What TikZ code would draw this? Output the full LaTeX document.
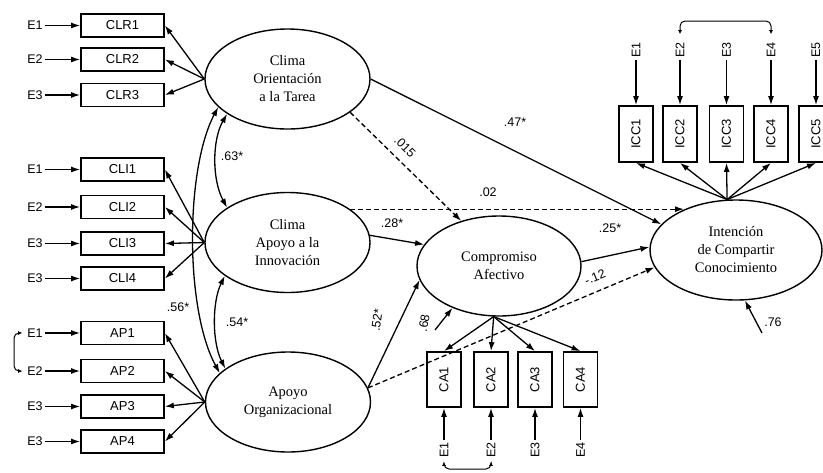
\documentclass[tikz,border=0pt]{standalone}
\usepackage{fontspec}
\usepackage{graphicx}
\setmainfont{Liberation Serif}
\newfontfamily\labelfont{Liberation Sans}
\usetikzlibrary{arrows.meta,shapes.geometric,calc}

\begin{document}
\begin{tikzpicture}[x=1pt,y=-1pt,
  every node/.style={inner sep=0pt},
  arr/.style={-{Latex[length=9pt,width=6pt]}, line width=1.3pt},
  dasharr/.style={arr, dash pattern=on 5pt off 3pt},
  cov/.style={{Latex[length=9pt,width=6pt]}-{Latex[length=9pt,width=6pt]}, line width=1.3pt},
  corr/.style={{Latex[length=4pt,width=4pt]}-{Latex[length=4pt,width=4pt]}, line width=1pt, rounded corners=5pt},
  latent/.style={ellipse, draw, line width=1.4pt, minimum width=165pt, minimum height=100pt,
    align=center, font=\fontsize{14.5}{18}\selectfont},
  ind/.style={draw, line width=1.8pt, minimum width=83pt, minimum height=23pt,
    font=\labelfont\fontsize{13}{15}\selectfont},
  vind/.style={draw, line width=1.8pt, minimum width=34pt, minimum height=56pt,
    font=\labelfont\fontsize{13}{15}\selectfont},
  err/.style={inner sep=2pt, font=\labelfont\fontsize{12.5}{14}\selectfont},
  coef/.style={font=\labelfont\fontsize{12.5}{14}\selectfont},
]
\useasboundingbox (0,0) rectangle (823,472);
\clip (0,0) rectangle (823,472);

% latent constructs
\node[latent] (ot) at (287.5,79) {Clima\\Orientación\\a la Tarea};
\node[latent] (ai) at (287.5,242.5) {Clima\\Apoyo a la\\Innovación};
\node[latent] (ao) at (288,402) {Apoyo\\Organizacional};
\node[latent, minimum width=164pt] (ca) at (499,266) {Compromiso\\Afectivo};
\node[latent, minimum width=172pt] (ic) at (736,250) {Intención\\de Compartir\\Conocimiento};

% indicators of the three climate / support factors, with their errors
\foreach \n/\t/\y/\e in {clr1/CLR1/25.5/E1, clr2/CLR2/59.5/E2, clr3/CLR3/95/E3,
    cli1/CLI1/169.5/E1, cli2/CLI2/207/E2, cli3/CLI3/243.5/E3, cli4/CLI4/278.5/E3,
    ap1/AP1/333/E1, ap2/AP2/371/E2, ap3/AP3/406.5/E3, ap4/AP4/441.5/E3} {
  \node[ind] (\n) at (122.5,\y) {\t};
  \node[err] (e\n) at (35,\y) {\e};
  \draw[arr] (e\n) -- (\n);
}
\foreach \n in {clr1,clr2,clr3} \draw[arr] (ot.west) -- (\n.east);
\foreach \n in {cli1,cli2,cli3,cli4} \draw[arr] (ai.west) -- (\n.east);
\foreach \n in {ap1,ap2,ap3,ap4} \draw[arr] (ao.west) -- (\n.east);

% correlated errors E1-E2 of AP
\coordinate (lbar) at (14,352);
\draw[corr, shorten <=3pt, shorten >=3pt] (eap1.west) -| (lbar) |- (eap2.west);

% indicators of the knowledge-sharing intention
\foreach \i/\x in {1/636,2/680,3/726.5,4/771,5/816} {
  \node[vind] (icc\i) at (\x,134) {\rotatebox{90}{ICC\i}};
  \node[err] (eicc\i) at (\x,50) {\rotatebox{90}{E\i}};
  \draw[arr] (eicc\i) -- (icc\i);
  \draw[arr] (ic.100) -- (icc\i.south);
}
\coordinate (topbar) at (724,21);
\draw[corr, shorten <=6pt, shorten >=6pt] (eicc2.north) |- (topbar) -| (eicc4.north);

% indicators of affective commitment
\foreach \i/\x in {1/444,2/491,3/535,4/580.5} {
  \node[vind, minimum height=55pt] (ca\i) at (\x,379.5) {\rotatebox{90}{CA\i}};
  \node[err] (eca\i) at (\x,450) {\rotatebox{90}{E\i}};
  \draw[arr] (eca\i) -- (ca\i);
  \draw[arr] (ca.-96) -- (ca\i.north);
}
\coordinate (botbar) at (469,469);
\draw[corr, shorten <=2pt, shorten >=2pt] (eca1.south) |- (botbar) -| (eca2.south);

% correlations among the exogenous factors
\draw[cov] (ot.-150) .. controls (212,140) and (212,180) .. (ai.150);
\draw[cov] (ai.-152) .. controls (212,302) and (212,342) .. (ao.152);
\draw[cov] (ot.-158) .. controls (185,170) and (185,310) .. (ao.157);

% structural paths
\draw[arr] (ot.east) -- (ic.161);
\draw[dasharr] (ot.-28) -- (ca.130);
\draw[dasharr] (ai.28) -- (ai.28 -| ic.142);
\draw[arr] (ai.5) -- (ca.164);
\draw[arr] (ao.10) -- (ca.190);
\draw[dasharr] (ao.10) -- (ic.-168);
\draw[arr] (ca.3) -- (ic.178);

% disturbances
\coordinate (rca) at (435,330);
\draw[arr] (rca) -- (ca.-138);
\coordinate (ric) at (762,333);
\draw[arr] (ric) -- (ic.-80);

% coefficients
\node[coef] (k63) at (232,156) {.63*};
\node[coef] (k54) at (237,322) {.54*};
\node[coef] (k56) at (178,307) {.56*};
\node[coef] (k47) at (515,122) {.47*};
\node[coef, rotate=-45] (k015) at (405,147) {.015};
\node[coef] (k02) at (488,192) {.02};
\node[coef] (k28) at (392,223) {.28*};
\node[coef] (k25) at (610,228) {.25*};
\node[coef, rotate=22] (k12) at (595,277) {-.12};
\node[coef, rotate=82] (k52) at (377,320) {.52*};
\node[coef, rotate=80] (k68) at (424,323) {.68};
\node[coef] (k76) at (773,322) {.76};
\end{tikzpicture}
\end{document}
